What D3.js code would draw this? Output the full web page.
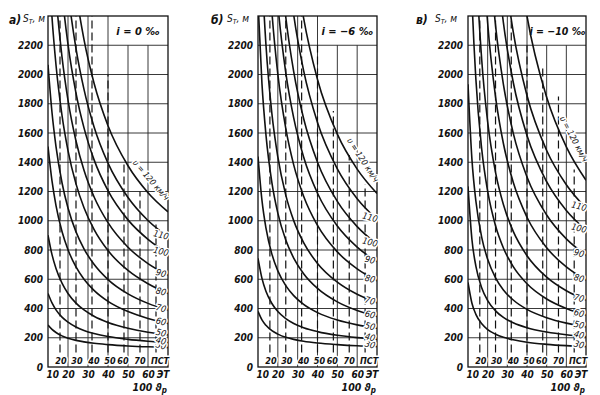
<!DOCTYPE html>
<html>
<head>
<meta charset="utf-8">
<script src="https://cdn.jsdelivr.net/npm/d3@7"></script>
<style>
  body { margin: 0; background: #fff; }
  svg text { font-family: "DejaVu Sans Condensed", "DejaVu Sans", sans-serif; font-style: italic; fill: #111; }
  .grid { stroke: #222; stroke-width: 0.9; }
  .dash { stroke: #111; stroke-width: 1.2; stroke-dasharray: 8,4; }
  .curve { fill: none; stroke: #111; stroke-width: 1.6; }
  .halo { paint-order: stroke; stroke: #fff; stroke-width: 3px; stroke-linejoin: round; }
</style>
</head>
<body>
<div class="chart"></div>
<script>
var svgWidth = 600;
var svgHeight = 395;

// 100*theta_p values at which every curve is read
var thetaGrid = [10, 12, 14, 17, 20, 24, 28, 33, 40, 50, 60, 70];
var speeds = [30, 40, 50, 60, 70, 80, 90, 100, 110, 120];

var yTicks = [0, 200, 400, 600, 800, 1000, 1200, 1400, 1600, 1800, 2000, 2200];
var bottomTicks = [10, 20, 30, 40, 50, 60, 70];
var bottomLabels = ["10", "20", "30", "40", "50", "60", "ЭТ"];
var dashPos = [16, 24, 32, 40, 48, 56, 64];
var dashLabels = ["20", "30", "40", "50", "60", "70", "ПСТ"];
var grades = ["i = 0 ‰", "i = −6 ‰", "i = −10 ‰"];
var tags = ["а)", "б)", "в)"];

// braking distance S_T, m  (one row per speed, 30 ... 120 km/h)
var curvesA = [
  [287, 257, 236, 213, 197, 182, 172, 162, 153, 144, 138, 134],
  [503, 438, 391, 341, 307, 274, 250, 229, 208, 189, 176, 166],
  [901, 768, 674, 573, 503, 437, 390, 347, 305, 265, 238, 220],
  [1507, 1272, 1104, 926, 802, 684, 600, 524, 449, 379, 332, 298],
  [2066, 1740, 1507, 1260, 1087, 924, 808, 702, 598, 500, 435, 389],
  [2846, 2391, 2065, 1721, 1480, 1252, 1089, 941, 796, 660, 569, 503],
  [3499, 2941, 2542, 2120, 1824, 1545, 1345, 1164, 987, 819, 707, 628],
  [4206, 3539, 3063, 2559, 2206, 1873, 1635, 1418, 1206, 1006, 873, 777],
  [4919, 4136, 3576, 2984, 2569, 2177, 1898, 1643, 1394, 1159, 1002, 890],
  [5773, 4857, 4203, 3510, 3025, 2567, 2239, 1942, 1650, 1376, 1192, 1061]
];

var curvesB = [
  [380, 322, 285, 248, 225, 203, 189, 176, 164, 153, 145, 140],
  [743, 606, 518, 434, 379, 331, 298, 269, 242, 217, 201, 190],
  [1439, 1139, 951, 772, 657, 556, 488, 428, 372, 321, 288, 265],
  [2498, 1936, 1589, 1261, 1052, 868, 745, 638, 537, 445, 386, 345],
  [3532, 2708, 2205, 1733, 1436, 1175, 1001, 850, 708, 580, 497, 440],
  [5064, 3847, 3112, 2430, 2002, 1631, 1382, 1168, 968, 787, 671, 590],
  [6407, 4826, 3883, 3018, 2479, 2013, 1703, 1436, 1188, 964, 820, 720],
  [7757, 5812, 4661, 3609, 2956, 2393, 2020, 1699, 1400, 1132, 960, 840],
  [9372, 6980, 5580, 4309, 3526, 2853, 2408, 2027, 1672, 1355, 1151, 1010],
  [11258, 8326, 6628, 5101, 4164, 3364, 2836, 2385, 1966, 1592, 1353, 1186]
];

var curvesC = [
  [578, 436, 360, 295, 256, 224, 203, 186, 169, 155, 146, 140],
  [1235, 872, 690, 540, 454, 384, 339, 302, 268, 239, 220, 207],
  [1933, 1420, 1135, 885, 736, 610, 527, 458, 394, 337, 300, 275],
  [3601, 2536, 1969, 1486, 1202, 966, 814, 686, 569, 465, 400, 355],
  [5441, 3708, 2826, 2096, 1676, 1331, 1111, 927, 761, 614, 521, 458],
  [8280, 5453, 4080, 2975, 2351, 1847, 1528, 1263, 1024, 815, 684, 594],
  [11109, 7101, 5242, 3787, 2980, 2336, 1932, 1599, 1299, 1039, 876, 765],
  [14479, 8963, 6524, 4664, 3652, 2852, 2355, 1947, 1583, 1267, 1070, 936],
  [18493, 11059, 7928, 5601, 4356, 3383, 2782, 2292, 1856, 1480, 1246, 1086],
  [60624, 22565, 13895, 8839, 6497, 4814, 3833, 3063, 2400, 1844, 1505, 1277]
];

// upper end of each dashed line, m
var dashTopA = [2400, 2400, 2400, 2000, 1410, 1200, 1000];
var dashTopB = [2400, 2400, 2400, 2200, 1750, 1450, 1250];
var dashTopC = [2400, 2400, 2400, 2200, 2050, 1850, 1350];

var plotTop = 16;
var plotBottom = 367;

var panels = [
  { x0: 48, x1: 168, tagX: 9, titleX: 23, boxX: 0, boxFont: 11, curves: curvesA, dashTop: dashTopA, v120: [151, 180, 49] },
  { x0: 258, x1: 377, tagX: 211, titleX: 227, boxX: 0, boxFont: 11, curves: curvesB, dashTop: dashTopB, v120: [363, 160, 57] },
  { x0: 468, x1: 586, tagX: 416, titleX: 435, boxX: 1, boxFont: 10.5, curves: curvesC, dashTop: dashTopC, v120: [574, 139, 62] }
];

var svg = d3.select(".chart")
  .append("svg")
  .attr("width", svgWidth)
  .attr("height", svgHeight);

panels.forEach(function(p, k) {

  var xScale = d3.scaleLinear().domain([10, 70]).range([p.x0, p.x1]);
  var yScale = d3.scaleLinear().domain([0, 2400]).range([plotBottom, plotTop]);

  var g = svg.append("g");

  g.append("clipPath")
    .attr("id", "clip" + k)
    .append("rect")
    .attr("x", p.x0)
    .attr("y", plotTop)
    .attr("width", p.x1 - p.x0)
    .attr("height", plotBottom - plotTop);

  // horizontal grid
  g.selectAll(".hgrid")
    .data(yTicks.slice(1))
    .enter()
    .append("line")
    .attr("class", "grid")
    .attr("x1", p.x0)
    .attr("x2", p.x1)
    .attr("y1", function(d) { return yScale(d); })
    .attr("y2", function(d) { return yScale(d); });

  // vertical grid, the ones right of 40 stop under the grade box
  g.selectAll(".vgrid")
    .data(bottomTicks.slice(1, -1))
    .enter()
    .append("line")
    .attr("class", "grid")
    .attr("x1", function(d) { return xScale(d); })
    .attr("x2", function(d) { return xScale(d); })
    .attr("y1", plotBottom)
    .attr("y2", function(d) { return d > 40 ? yScale(2200) : plotTop; });

  // dashed lines of the second scale
  g.selectAll(".dash")
    .data(dashPos)
    .enter()
    .append("line")
    .attr("class", "dash")
    .attr("x1", function(d) { return xScale(d); })
    .attr("x2", function(d) { return xScale(d); })
    .attr("y1", yScale(100))
    .attr("y2", function(d, i) { return yScale(p.dashTop[i]); });

  // frame
  g.append("rect")
    .attr("x", p.x0)
    .attr("y", plotTop)
    .attr("width", p.x1 - p.x0)
    .attr("height", plotBottom - plotTop)
    .attr("fill", "none")
    .attr("stroke", "#111")
    .attr("stroke-width", 1.3);

  var line = d3.line()
    .curve(d3.curveMonotoneX)
    .x(function(d, i) { return xScale(thetaGrid[i]); })
    .y(function(d) { return yScale(d); });

  g.append("g")
    .attr("clip-path", "url(#clip" + k + ")")
    .selectAll("path")
    .data(p.curves)
    .enter()
    .append("path")
    .attr("class", "curve")
    .attr("d", line);

  // speed labels at the right ends
  g.selectAll(".vlabel")
    .data(speeds.slice(0, -1))
    .enter()
    .append("text")
    .attr("class", "halo")
    .attr("font-size", 9)
    .attr("text-anchor", "middle")
    .attr("transform", function(d, i) {
      var yy = yScale(p.curves[i][thetaGrid.length - 1]) - 2;
      return "translate(" + (p.x1 - 7) + "," + yy + ") rotate(15)";
    })
    .attr("dy", "0.35em")
    .text(function(d) { return d; });

  g.append("text")
    .attr("class", "halo")
    .attr("font-size", 8.5)
    .attr("text-anchor", "middle")
    .attr("transform", "translate(" + p.v120[0] + "," + p.v120[1] + ") rotate(" + p.v120[2] + ")")
    .attr("dy", "0.35em")
    .text("υ = 120 км/ч");

  // grade box text
  g.append("text")
    .attr("x", (xScale(40) + p.x1) / 2 + p.boxX)
    .attr("y", 35)
    .attr("text-anchor", "middle")
    .attr("font-size", p.boxFont)
    .attr("font-weight", "bold")
    .text(grades[k]);

  // axes
  var yAxis = d3.axisLeft(yScale)
    .tickValues(yTicks)
    .tickSize(0)
    .tickPadding(5)
    .tickFormat(d3.format("d"));
  var yg = g.append("g")
    .attr("transform", "translate(" + p.x0 + ",0)")
    .call(yAxis);
  yg.select(".domain").remove();
  yg.selectAll("text")
    .attr("font-size", 10)
    .attr("font-weight", "bold");

  var xAxis = d3.axisBottom(xScale)
    .tickValues(bottomTicks)
    .tickSize(0)
    .tickPadding(4)
    .tickFormat(function(d, i) { return bottomLabels[i]; });
  var xg = g.append("g")
    .attr("transform", "translate(0," + plotBottom + ")")
    .call(xAxis);
  xg.select(".domain").remove();
  xg.selectAll("text")
    .attr("font-size", 10)
    .attr("font-weight", "bold")
    .attr("text-anchor", function(d, i) {
      return i === 0 ? "start" : (i === bottomTicks.length - 1 ? "end" : "middle");
    })
    .attr("x", function(d, i) { return i === 0 ? -2 : (i === bottomTicks.length - 1 ? 1 : 0); });

  // labels of the dashed lines
  g.selectAll(".dlabel")
    .data(dashLabels)
    .enter()
    .append("text")
    .attr("class", "halo")
    .attr("x", function(d, i) {
      var shift = [1, 1, 2, 2, -1, 0, 4][i];
      return xScale(dashPos[i]) + shift;
    })
    .attr("y", 364)
    .attr("text-anchor", "middle")
    .attr("font-size", 9)
    .attr("font-weight", "bold")
    .text(function(d) { return d; });

  // "100 θp"
  var xt = g.append("text")
    .attr("x", p.x1 - 1)
    .attr("y", 391)
    .attr("text-anchor", "end")
    .attr("font-size", 10.5)
    .attr("font-weight", "bold");
  xt.append("tspan").text("100 ϑ");
  xt.append("tspan").attr("font-size", 8).attr("dy", 2).text("р");

  // panel letter and y title
  g.append("text")
    .attr("x", p.tagX)
    .attr("y", 24)
    .attr("font-size", 12)
    .attr("font-weight", "bold")
    .text(tags[k]);

  var yt = g.append("text")
    .attr("x", p.titleX)
    .attr("y", 22)
    .attr("font-size", 10);
  yt.append("tspan").text("S");
  yt.append("tspan").attr("font-size", 7).attr("dy", 2).text("T");
  yt.append("tspan").attr("dy", -2).text(", м");
});
</script>
</body>
</html>
